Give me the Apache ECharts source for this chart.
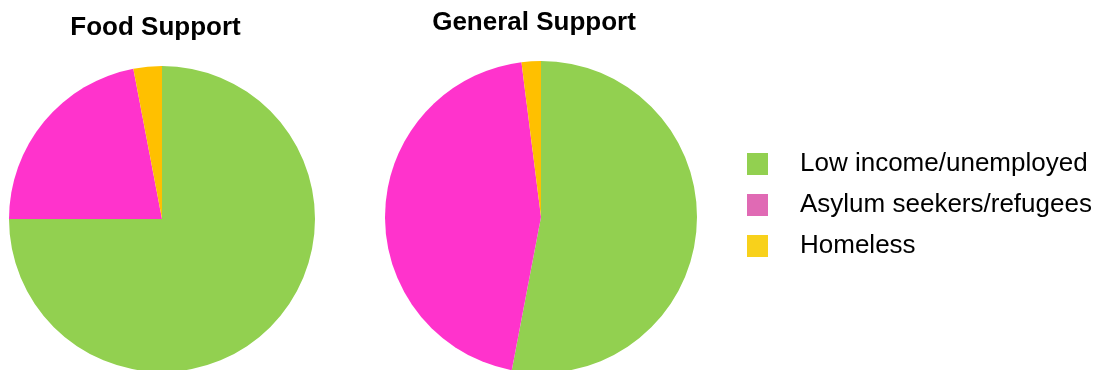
<!DOCTYPE html>
<html>
<head>
<meta charset="utf-8">
<script src="https://cdn.jsdelivr.net/npm/echarts@6/dist/echarts.min.js"></script>
<style>
  html, body { margin: 0; padding: 0; background: #ffffff; }
  #chart { width: 1104px; height: 370px; }
</style>
</head>
<body>
<div id="chart"></div>
<script>
// Support groups shown in both pies
const groups = ['Low income/unemployed', 'Asylum seekers/refugees', 'Homeless'];
// Share of people reached (%) per group
const foodSupport = [75, 22, 3];
const generalSupport = [53, 45, 2];

const sliceColors = ['#92D050', '#FF33CC', '#FFC000'];
const legendColors = ['#92D050', '#E06AB4', '#F8D11B'];

const font = 'Liberation Sans, Arial, sans-serif';

function pieSeries(name, values, center, r) {
  return {
    name: name,
    type: 'pie',
    center: center,
    radius: [0, r],
    startAngle: 90,
    clockwise: true,
    silent: true,
    animation: false,
    label: { show: false },
    labelLine: { show: false },
    data: groups.map((g, i) => ({
      name: g,
      value: values[i],
      itemStyle: { color: sliceColors[i] }
    }))
  };
}

const chart = echarts.init(document.getElementById('chart'), null, { renderer: 'canvas' });
chart.setOption({
  animation: false,
  title: [
    {
      text: 'Food Support', left: 155.5, top: 14, textAlign: 'center', padding: 0,
      textStyle: { fontFamily: font, fontSize: 26, lineHeight: 28, fontWeight: 'bold', color: '#000' }
    },
    {
      text: 'General Support', left: 534, top: 9, textAlign: 'center', padding: 0,
      textStyle: { fontFamily: font, fontSize: 26, lineHeight: 28, fontWeight: 'bold', color: '#000' }
    }
  ],
  legend: {
    orient: 'vertical',
    left: 747,
    top: 151,
    padding: 0,
    itemWidth: 21,
    itemHeight: 22,
    itemGap: 15,
    icon: 'rect',
    selectedMode: false,
    data: groups.map((g, i) => ({ name: g, itemStyle: { color: legendColors[i] } })),
    textStyle: { fontFamily: font, fontSize: 26, lineHeight: 22, color: '#000', padding: [0, 0, 0, 27] }
  },
  series: [
    pieSeries('Food Support', foodSupport, [162, 219], 153),
    pieSeries('General Support', generalSupport, [541, 217], 156)
  ]
});
</script>
</body>
</html>
